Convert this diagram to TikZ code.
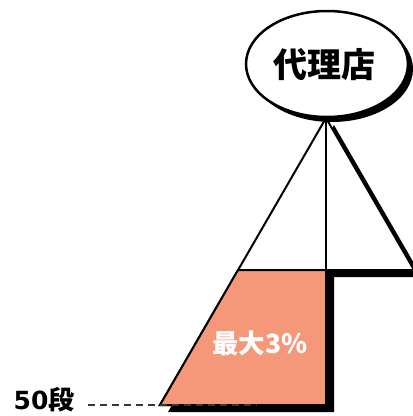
\documentclass[tikz,border=0pt]{standalone}
\usepackage{fontspec}
\newfontfamily\cjk{Noto Sans CJK JP}
\newfontfamily\digits{DejaVu Sans}
\usetikzlibrary{shapes.geometric}
\definecolor{salmon}{RGB}{245,152,122}
\definecolor{dashgray}{RGB}{55,55,55}
\tikzset{
  thinline/.style={draw=black, line width=2pt},
  agentbox/.style={ellipse, minimum width=162pt, minimum height=106pt, inner sep=0pt},
  dashline/.style={draw=dashgray, line width=1.5pt, dash pattern=on 7pt off 5pt},
}
\begin{document}
\begin{tikzpicture}[x=1pt,y=-1pt, line join=miter]
\useasboundingbox (0,0) rectangle (413,416);
\clip (0,0) rectangle (413,416);
\fill[white] (0,0) rectangle (413,416);
% key points
\coordinate (apex) at (326,118);
\coordinate (R) at (414,270);
\coordinate (M) at (326,270);
\coordinate (L) at (238,270);
\coordinate (B) at (326,405);
\coordinate (BL) at (160,405);
% shadow of the stepped pyramid
\fill[black] ([shift={(8,7)}]apex) -- ([shift={(8,7)}]R) -- ([shift={(8,7)}]M) -- ([shift={(8,7)}]B) -- ([shift={(8,7)}]BL) -- cycle;
% pyramid body
\filldraw[fill=white, thinline] (apex) -- (R) -- (M) -- (B) -- (BL) -- cycle;
% orange part
\filldraw[fill=salmon, thinline] (L) -- (M) -- (B) -- (BL) -- cycle;
\draw[thinline] (apex) -- (M);
% dashed line and label
\node[font=\cjk\bfseries\fontsize{26}{26}\selectfont, inner sep=0pt] (fifty) at (44,400) {{\digits\bfseries\fontsize{25}{25}\selectfont 50}段};
\coordinate (dstart) at (88,405);
\coordinate (dend) at (257,405);
\draw[dashline] (dstart) -- (dend);
\node[font=\cjk\bfseries\fontsize{26.5}{26.5}\selectfont, text=white, inner sep=0pt] (rate) at (260,343) {最大3\%};
% ellipse with shadow
\node[agentbox, fill=black] (agentshadow) at (332,69) {};
\node[agentbox, fill=white, draw=black, line width=2.5pt] (agent) at (327,64) {};
\node[font=\cjk\bfseries\fontsize{34}{34}\selectfont, inner sep=0pt] (agentlabel) at (324,65) {代理店};
\end{tikzpicture}
\end{document}
